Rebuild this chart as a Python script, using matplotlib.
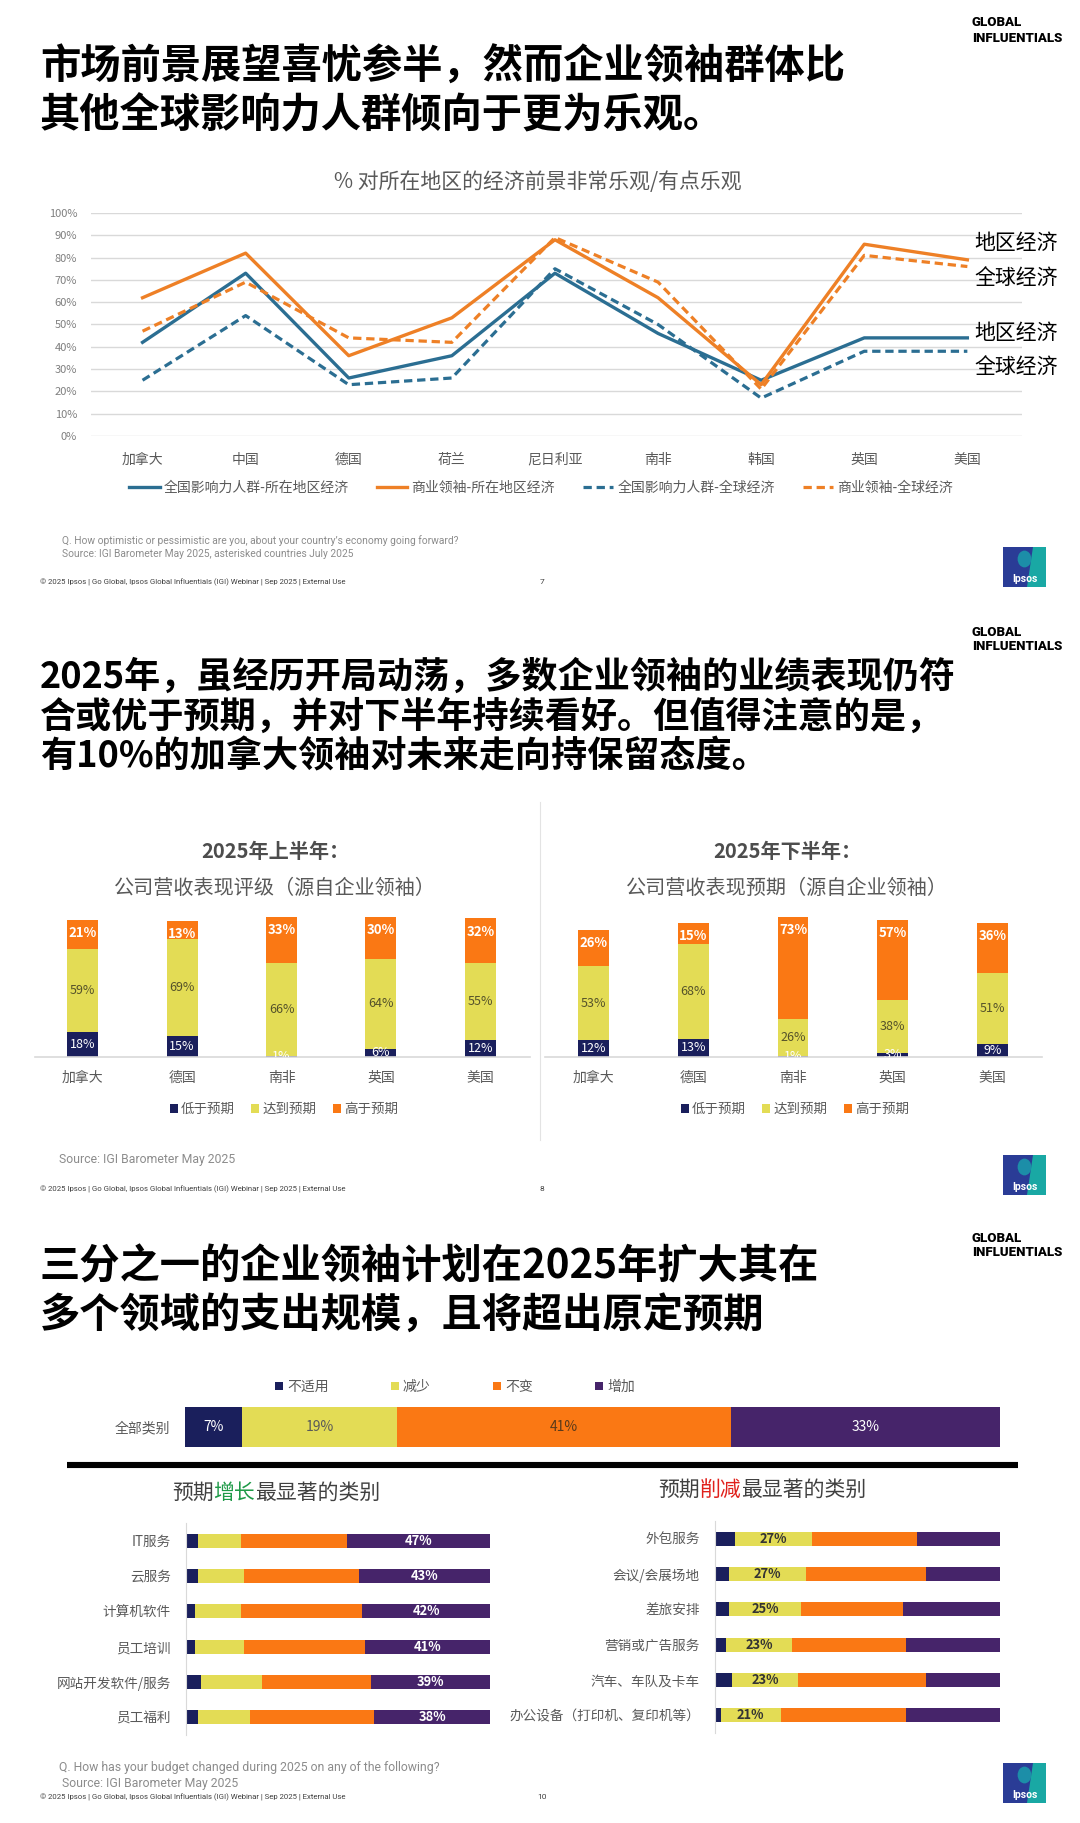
import numpy as np
import matplotlib
matplotlib.use('Agg')
import matplotlib.pyplot as plt
from matplotlib.patches import Rectangle, Polygon, Ellipse
from matplotlib.lines import Line2D

plt.rcParams['font.family'] = ['Noto Sans CJK SC', 'DejaVu Sans']
plt.rcParams['axes.unicode_minus'] = False

W, H, DPI = 1080, 1823, 100

# ---------------- data ----------------
countries_1 = ['加拿大', '中国', '德国', '荷兰', '尼日利亚', '南非', '韩国', '英国', '美国']
infl_local = [42, 73, 26, 36, 73, 46, 25, 44, 44]
biz_local = [62, 82, 36, 53, 88, 62, 23, 86, 79]
infl_global = [25, 54, 23, 26, 75, 50, 17, 38, 38]
biz_global = [47, 69, 44, 42, 89, 69, 21, 81, 76]
series_1 = ['全国影响力人群-所在地区经济', '商业领袖-所在地区经济',
            '全国影响力人群-全球经济', '商业领袖-全球经济']
yticks_1 = [0, 10, 20, 30, 40, 50, 60, 70, 80, 90, 100]
end_labels_1 = ['地区经济', '全球经济', '地区经济', '全球经济']

countries_2 = ['加拿大', '德国', '南非', '英国', '美国']
status_2 = ['低于预期', '达到预期', '高于预期']
h1_below = [18, 15, 1, 6, 12]
h1_meet = [59, 69, 66, 64, 55]
h1_above = [21, 13, 33, 30, 32]
h2_below = [12, 13, 1, 3, 9]
h2_meet = [53, 68, 26, 38, 51]
h2_above = [26, 15, 73, 57, 36]

budget_keys = ['不适用', '减少', '不变', '增加']
all_cat_label = ['全部类别']
all_cat = [7, 19, 41, 33]
grow_cats = ['IT服务', '云服务', '计算机软件', '员工培训', '网站开发软件/服务', '员工福利']
grow_na = [4, 4, 3, 3, 5, 4]
grow_dec = [14, 15, 15, 16, 20, 17]
grow_same = [35, 38, 40, 40, 36, 41]
grow_inc = [47, 43, 42, 41, 39, 38]
cut_cats = ['外包服务', '会议/会展场地', '差旅安排', '营销或广告服务', '汽车、车队及卡车', '办公设备（打印机、复印机等）']
cut_na = [7, 5, 5, 4, 6, 2]
cut_dec = [27, 27, 25, 23, 23, 21]
cut_same = [37, 42, 36, 40, 45, 44]
cut_inc = [29, 26, 34, 33, 26, 33]

# ---------------- styles ----------------
BLUE = '#2B6E92'
ORANGE = '#EE8026'
NAVY = '#1A1F5C'
YELLOW = '#E3DC55'
ORANGE2 = '#FA7814'
PURPLE = '#46246A'
GRAY = '#595959'
LIGHT = '#D9D9D9'
LATIN = ['Roboto', 'DejaVu Sans']

fig = plt.figure(figsize=(W / DPI, H / DPI), dpi=DPI)
fig.patch.set_facecolor('white')


def axes_px(l, t, r, b):
    return fig.add_axes([l / W, 1 - b / H, (r - l) / W, (b - t) / H])


def ftext(x, y, s, **kw):
    kw.setdefault('va', 'center')
    return fig.text(x / W, 1 - y / H, s, **kw)


def fline(x0, y0, x1, y1, **kw):
    fig.add_artist(Line2D([x0 / W, x1 / W], [1 - y0 / H, 1 - y1 / H],
                          transform=fig.transFigure, **kw))


def brand(y):
    ftext(972, y, 'GLOBAL', family=LATIN, weight='black', fontsize=9.5, color='black')
    ftext(972, y + 15, 'INFLUENTIALS', family=LATIN, weight='black', fontsize=9.5, color='black')


def logo(x0, y0, w=43, h=40):
    ax = axes_px(x0, y0, x0 + w, y0 + h)
    ax.set_xlim(0, 1)
    ax.set_ylim(0, 1)
    ax.axis('off')
    ax.add_patch(Rectangle((0, 0), 1, 1, facecolor='#2A3C96', edgecolor='none'))
    ax.add_patch(Polygon([[0.55, 0], [1, 0], [1, 1], [0.7, 1]], closed=True,
                         facecolor='#19A8A4', edgecolor='none'))
    ax.add_patch(Ellipse((0.5, 0.7), 0.32, 0.42, facecolor='#1C8EA8', edgecolor='none'))
    ax.text(0.5, 0.2, 'Ipsos', ha='center', va='center', color='white',
            fontsize=7.5, weight='bold', family=LATIN)


def footer(y, page):
    ftext(40, y, '© 2025 Ipsos | Go Global, Ipsos Global Influentials (IGI) Webinar | Sep 2025 | External Use',
          family=LATIN, fontsize=5.6, color='#404040')
    ftext(542, y, page, family=LATIN, fontsize=6, color='#404040', ha='center')


# ======================= SLIDE 1 =======================
brand(23)
ftext(40, 67, '市场前景展望喜忧参半，然而企业领袖群体比', fontsize=29, weight='black', color='black')
ftext(40, 116, '其他全球影响力人群倾向于更为乐观。', fontsize=29, weight='black', color='black')
ftext(538, 182, '% 对所在地区的经济前景非常乐观/有点乐观', fontsize=15, color=GRAY, ha='center')

ax1 = axes_px(91, 213, 1022, 436)
x1 = np.arange(len(countries_1))
dash = (0, (2.6, 1.5))
ax1.plot(x1, infl_local, color=BLUE, lw=2.4, label=series_1[0], zorder=3)
ax1.plot(x1, biz_local, color=ORANGE, lw=2.4, label=series_1[1], zorder=3)
ax1.plot(x1, infl_global, color=BLUE, lw=2.3, ls=dash, label=series_1[2], zorder=3)
ax1.plot(x1, biz_global, color=ORANGE, lw=2.3, ls=dash, label=series_1[3], zorder=3)
ax1.set_xlim(-0.5, 8.53)
ax1.set_ylim(0, 100)
ax1.set_yticks(yticks_1)
ax1.set_yticklabels([f'{v}%' for v in yticks_1])
ax1.set_xticks(x1)
ax1.set_xticklabels(countries_1)
ax1.grid(axis='y', color=LIGHT, lw=1)
ax1.set_axisbelow(True)
for s in ax1.spines.values():
    s.set_visible(False)
ax1.tick_params(axis='y', length=0, labelsize=8, labelcolor='#7F7F7F', pad=10)
ax1.tick_params(axis='x', length=0, labelsize=10, labelcolor=GRAY, pad=12)
ax1.legend(loc='center', bbox_to_anchor=(541 / W, 1 - 488 / H), bbox_transform=fig.transFigure,
           ncol=4, frameon=False, fontsize=10, handlelength=2.2, columnspacing=2.0,
           handletextpad=0.3, labelcolor=GRAY)
for yy, lab in zip([243, 278, 333, 367], end_labels_1):
    ftext(974, yy, lab, fontsize=15, color='black')

ftext(62, 541, 'Q. How optimistic or pessimistic are you, about your country\u2019s economy going forward?',
      family=LATIN, fontsize=7.4, color='#8C8C8C')
ftext(62, 554, 'Source: IGI Barometer May 2025, asterisked countries July 2025',
      family=LATIN, fontsize=7.4, color='#8C8C8C')
footer(582, '7')
logo(1003, 547)

# ======================= SLIDE 2 =======================
brand(632)
ftext(40, 677, '2025年，虽经历开局动荡，多数企业领袖的业绩表现仍符', fontsize=26, weight='black', color='black')
ftext(40, 717, '合或优于预期，并对下半年持续看好。但值得注意的是，', fontsize=26, weight='black', color='black')
ftext(40, 757, '有10%的加拿大领袖对未来走向持保留态度。', fontsize=26, weight='black', color='black')

ftext(275, 851, '2025年上半年：', fontsize=14.5, weight='bold', color='#4D4D4D', ha='center')
ftext(275, 888, '公司营收表现评级（源自企业领袖）', fontsize=14.5, color=GRAY, ha='center')
ftext(787, 851, '2025年下半年：', fontsize=14.5, weight='bold', color='#4D4D4D', ha='center')
ftext(787, 888, '公司营收表现预期（源自企业领袖）', fontsize=14.5, color=GRAY, ha='center')
fline(540, 802, 540, 1140, color='#E3E3E3', lw=0.8)


def stacked(ax, below, meet, above, legend_cx):
    x = np.arange(len(countries_2))
    w = 0.31
    b1 = ax.bar(x, below, width=w, color=NAVY, label=status_2[0])
    b2 = ax.bar(x, meet, bottom=below, width=w, color=YELLOW, label=status_2[1])
    mid = np.add(below, meet)
    b3 = ax.bar(x, above, bottom=mid, width=w, color=ORANGE2, label=status_2[2])
    for i in x:
        ax.text(i, below[i] / 2, f'{below[i]}%', ha='center', va='center', color='white',
                fontsize=9, clip_on=True)
        ax.text(i, below[i] + meet[i] / 2, f'{meet[i]}%', ha='center', va='center',
                color='#55522A', fontsize=9, clip_on=True)
        ax.annotate(f'{above[i]}%', xy=(i, mid[i] + above[i]), xytext=(0, -9.5),
                    textcoords='offset points', ha='center', va='center', color='white',
                    fontsize=9.5, weight='bold')
    ax.set_ylim(0, 100)
    ax.set_xticks(x)
    ax.set_xticklabels(countries_2)
    ax.set_yticks([])
    for k, s in ax.spines.items():
        s.set_visible(k == 'bottom')
    ax.spines['bottom'].set_color(LIGHT)
    ax.spines['bottom'].set_linewidth(1.2)
    ax.tick_params(axis='x', length=0, labelsize=10, labelcolor=GRAY, pad=10)
    ax.legend(handles=[b1, b2, b3], loc='center', bbox_to_anchor=(legend_cx / W, 1 - 1109 / H),
              bbox_transform=fig.transFigure, ncol=3, frameon=False, fontsize=9.7,
              handlelength=0.6, handleheight=0.6, handletextpad=0.25, columnspacing=1.2,
              labelcolor=GRAY)


ax2a = axes_px(35, 917, 530, 1057)
stacked(ax2a, h1_below, h1_meet, h1_above, 284)
ax2a.set_xlim(-0.48, 4.5)
ax2b = axes_px(545, 917, 1042, 1057)
stacked(ax2b, h2_below, h2_meet, h2_above, 795)
ax2b.set_xlim(-0.49, 4.5)

ftext(59, 1160, 'Source: IGI Barometer May 2025', family=LATIN, fontsize=8.8, color='#8C8C8C')
footer(1189, '8')
logo(1003, 1155)

# ======================= SLIDE 3 =======================
brand(1238)
ftext(40, 1267, '三分之一的企业领袖计划在2025年扩大其在', fontsize=29, weight='black', color='black')
ftext(40, 1315, '多个领域的支出规模，且将超出原定预期', fontsize=29, weight='black', color='black')

seg_colors = [NAVY, YELLOW, ORANGE2, PURPLE]

ax3 = axes_px(185, 1407, 1000, 1447)
left = 0
handles = []
txt_cols = ['white', GRAY, '#5A3A1A', 'white']
for v, c, k, tc in zip(all_cat, seg_colors, budget_keys, txt_cols):
    b = ax3.barh(0, v, left=left, height=1.0, color=c, label=k)
    handles.append(b)
    ax3.text(left + v / 2, 0, f'{v}%', ha='center', va='center', color=tc, fontsize=10)
    left += v
ax3.set_xlim(0, 100)
ax3.set_ylim(-0.5, 0.5)
ax3.set_yticks([0])
ax3.set_yticklabels(all_cat_label)
ax3.set_xticks([])
for s in ax3.spines.values():
    s.set_visible(False)
ax3.tick_params(axis='y', length=0, labelsize=10, labelcolor=GRAY, pad=11)
ax3.legend(handles=handles, loc='center', bbox_to_anchor=(455 / W, 1 - 1387 / H),
           bbox_transform=fig.transFigure, ncol=4, frameon=False, fontsize=10,
           handlelength=0.55, handleheight=0.55, handletextpad=0.3, columnspacing=4.5,
           labelcolor=GRAY)

fline(67, 1465, 1018, 1465, color='black', lw=4.4, solid_capstyle='butt')

# subtitles with coloured words (CJK glyphs advance exactly 1 em)
sub_fs = 15
em = sub_fs * DPI / 72.0


def sub_title(cx, y, pre, key, post, key_color):
    n = len(pre) + len(key) + len(post)
    x0 = cx - n * em / 2
    ftext(x0, y, pre, fontsize=sub_fs, color='#404040', ha='left')
    ftext(x0 + len(pre) * em, y, key, fontsize=sub_fs, color=key_color, ha='left')
    ftext(x0 + (len(pre) + len(key)) * em, y, post, fontsize=sub_fs, color='#404040', ha='left')


sub_title(276, 1493, '预期', '增长', '最显著的类别', '#1E9A48')
sub_title(762, 1490, '预期', '削减', '最显著的类别', '#E0201B')


def hstack(ax, cats, na, dec, same, inc, label_idx, label_color):
    y = np.arange(len(cats))
    parts = [na, dec, same, inc]
    lefts = np.zeros(len(cats))
    for p, c in zip(parts, seg_colors):
        ax.barh(y, p, left=lefts, height=0.4, color=c)
        lefts = lefts + np.array(p)
    lp = np.zeros(len(cats))
    for j in range(label_idx):
        lp = lp + np.array(parts[j])
    vals = parts[label_idx]
    for i in y:
        ax.text(lp[i] + vals[i] / 2, i, f'{vals[i]}%', ha='center', va='center',
                color=label_color, fontsize=9.3, weight='bold')
    ax.set_xlim(0, 100)
    ax.set_ylim(len(cats) - 0.5, -0.5)
    ax.set_yticks(y)
    ax.set_yticklabels(cats)
    ax.set_xticks([])
    for k, s in ax.spines.items():
        s.set_visible(k == 'left')
    ax.spines['left'].set_color(LIGHT)
    ax.tick_params(axis='y', length=0, labelsize=9.8, labelcolor=GRAY, pad=11)


ax4 = axes_px(186, 1523, 490, 1735)
hstack(ax4, grow_cats, grow_na, grow_dec, grow_same, grow_inc, 3, 'white')
ax5 = axes_px(715, 1521, 1000, 1733)
hstack(ax5, cut_cats, cut_na, cut_dec, cut_same, cut_inc, 1, '#333333')

ftext(59, 1768, 'Q. How has your budget changed during 2025 on any of the following?',
      family=LATIN, fontsize=8.8, color='#8C8C8C')
ftext(62, 1783, 'Source: IGI Barometer May 2025', family=LATIN, fontsize=8.8, color='#8C8C8C')
footer(1797, '10')
logo(1003, 1763)

fig.savefig('out.png', dpi=DPI, facecolor='white')
